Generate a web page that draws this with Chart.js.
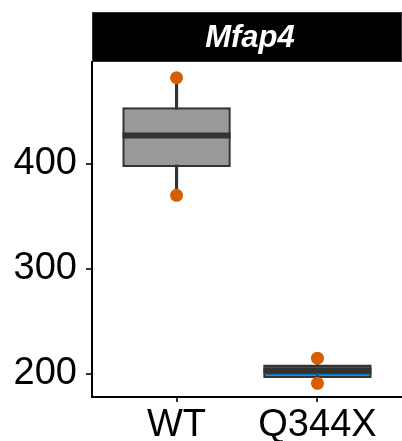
<!DOCTYPE html>
<html>
<head>
<meta charset="utf-8">
<script src="https://cdn.jsdelivr.net/npm/chart.js@4"></script>
<style>
  html, body { margin: 0; padding: 0; background: #fff; }
  canvas { display: block; }
</style>
</head>
<body>
<canvas id="boxChart" width="402" height="441"></canvas>
<script>
// data
const categories = ["WT", "Q344X"];
const boxMin = [370, 191];
const boxQ1 = [397, 196];
const boxMedian = [427, 203];
const boxQ3 = [454, 209];
const boxMax = [482, 215];
const pointValues = [[482, 370], [215, 191]];
const yTicks = [200, 300, 400];
const panelTitle = "Mfap4";

const fillColors = ["#999999", "#0072B2"];
const FONT = "'Liberation Sans', Arial, sans-serif";

// strip header above the panel (like a ggplot facet label)
const stripPlugin = {
  id: "strip",
  beforeDraw(chart) {
    const { ctx, chartArea } = chart;
    const h = 50;
    ctx.save();
    ctx.fillStyle = "#000";
    ctx.fillRect(chartArea.left, chartArea.top - h, chartArea.right - chartArea.left, h);
    ctx.strokeStyle = "#333";
    ctx.lineWidth = 1;
    ctx.strokeRect(chartArea.left + 0.5, chartArea.top - h + 0.5, chartArea.right - chartArea.left - 1, h - 1);
    ctx.fillStyle = "#fff";
    ctx.font = "italic bold 31px " + FONT;
    ctx.textAlign = "center";
    ctx.textBaseline = "middle";
    ctx.fillText(panelTitle, (chartArea.left + chartArea.right) / 2 + 3, chartArea.top - h / 2 + 1);
    ctx.restore();
  },
};

const pointData = [];
pointValues.forEach((vals, i) => vals.forEach((v) => pointData.push({ x: i + 1, y: v })));

new Chart(document.getElementById("boxChart"), {
  type: "bar",
  data: {
    datasets: [
      {
        type: "scatter",
        data: pointData,
        backgroundColor: "#D55E00",
        borderWidth: 0,
        pointRadius: 6.5,
        order: 0,
      },
      {
        type: "scatter",
        data: boxMedian.map((v, i) => ({ x: i + 1, y: v })),
        pointStyle: "line",
        pointRadius: 54,
        borderColor: "#333",
        borderWidth: 6,
        order: 1,
      },
      {
        data: boxQ1.map((v, i) => ({ x: i + 1, y: [v, boxQ3[i]] })),
        backgroundColor: fillColors,
        borderColor: "#333",
        borderWidth: 2.5,
        borderSkipped: false,
        barPercentage: 0.77,
        categoryPercentage: 1,
        grouped: false,
        order: 2,
      },
      {
        data: boxMin.map((v, i) => ({ x: i + 1, y: [v, boxMax[i]] })),
        backgroundColor: "#333",
        barThickness: 2.5,
        grouped: false,
        order: 3,
      },
    ],
  },
  options: {
    responsive: false,
    animation: false,
    events: [],
    layout: { autoPadding: false, padding: { top: 62, right: 0, bottom: 0, left: 0 } },
    plugins: { legend: { display: false }, tooltip: { enabled: false } },
    scales: {
      x: {
        type: "linear",
        min: 0.4,
        max: 2.6,
        offset: false,
        afterBuildTicks: (scale) => {
          scale.ticks = categories.map((c, i) => ({ value: i + 1 }));
        },
        afterFit: (scale) => {
          scale.height = 44;
          scale.paddingLeft = 0;
          scale.paddingRight = 0;
        },
        ticks: {
          callback: (v) => categories[v - 1] || "",
          color: "#000",
          font: { family: FONT, size: 38 },
          padding: 1,
          maxRotation: 0,
          autoSkip: false,
        },
        grid: { offset: false, drawOnChartArea: false, drawTicks: true, tickLength: 5, color: "#333", lineWidth: 2 },
        border: { display: true, color: "#000", width: 2 },
      },
      y: {
        min: 178,
        max: 497,
        afterBuildTicks: (scale) => {
          scale.ticks = yTicks.map((v) => ({ value: v }));
        },
        afterFit: (scale) => { scale.width = 92; },
        ticks: {
          color: "#000",
          font: { family: FONT, size: 38 },
          padding: 9,
        },
        grid: { drawOnChartArea: false, drawTicks: true, tickLength: 6, color: "#333", lineWidth: 2 },
        border: { display: true, color: "#000", width: 2 },
      },
    },
  },
  plugins: [stripPlugin],
});
</script>
</body>
</html>
